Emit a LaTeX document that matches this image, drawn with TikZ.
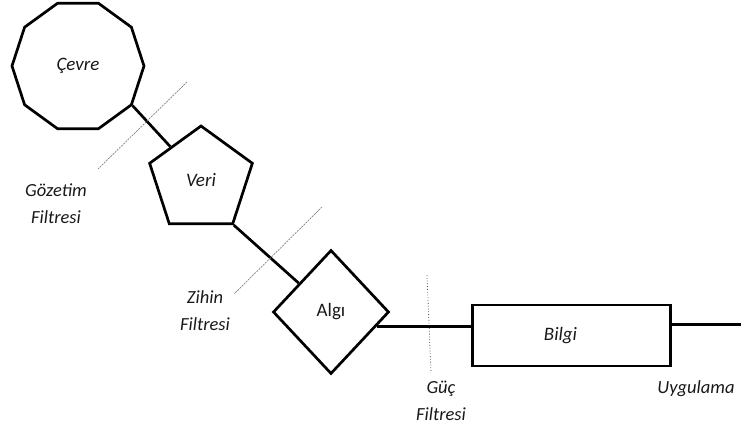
\documentclass[tikz,border=0pt]{standalone}
\usepackage{fontspec}
\setmainfont{Carlito}
\usepackage{tikz}
\usetikzlibrary{shapes,shapes.geometric,positioning}

\begin{document}
\begin{tikzpicture}[x=1pt, y=-1pt,
    stage/.style={draw, line width=2.7pt, text=black!90, font=\fontsize{19}{22}\selectfont\itshape, inner sep=0pt},
    link/.style={line width=2.7pt},
    filt/.style={gray, line width=0.7pt, dash pattern=on 2pt off 1pt},
    lbl/.style={align=center, text=black!90, font=\fontsize{18.5}{27}\selectfont\itshape}
  ]
    \useasboundingbox (0,0) rectangle (741,427);
    \node[stage, regular polygon, regular polygon sides=10, minimum size=132] (cevre) at (78,66) {Çevre};
    \node[stage, regular polygon, regular polygon sides=5, minimum size=108] (veri) at (201,180) {Veri};
    \node[stage, diamond, minimum width=116, minimum height=124, font=\fontsize{19}{22}\selectfont] (algi) at (331,312) {Algı};
    \node[stage, rectangle, minimum width=198, minimum height=61, label={[xshift=-11pt, text=black!90, font=\fontsize{19}{22}\selectfont\itshape]center:Bilgi}] (bilgi) at (571.5,335.5) {};
    \coordinate (out) at (741,0);
    \draw[link] (cevre.corner 8) -- (veri);
    \draw[link] (veri.corner 4) -- (algi);
    \draw[link] (algi.-18) -- (algi.-18 -| bilgi.west);
    \draw[link] (bilgi.east |- algi.-15) -- (out |- algi.-15);
    \coordinate (g1) at (187,82);
    \coordinate (g2) at (98,169);
    \coordinate (z1) at (322,207);
    \coordinate (z2) at (234,294);
    \coordinate (p1) at (427,275);
    \coordinate (p2) at (431,373);
    \draw[filt] (g1) -- (g2);
    \draw[filt] (z1) -- (z2);
    \draw[black!70, line width=0.8pt, dotted] (p1) -- (p2);
    \node[lbl] (gozetim) at (56,204) {Gözetim\\Filtresi};
    \node[lbl] (zihin) at (205,311) {Zihin\\Filtresi};
    \node[lbl] (guc) at (441,401) {Güç\\Filtresi};
    \node[lbl] (uyg) at (696,389) {Uygulama};
  \end{tikzpicture}
\end{document}
